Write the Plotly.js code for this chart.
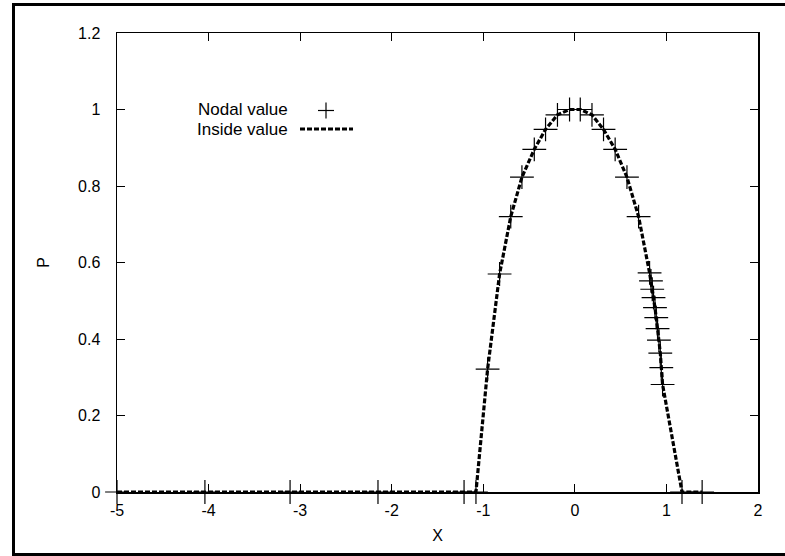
<!DOCTYPE html>
<html>
<head>
<meta charset="utf-8">
<script src="https://cdn.plot.ly/plotly-3.0.1.min.js"></script>
<style>
html,body{margin:0;padding:0;background:#fff;overflow:hidden;}
#frame{position:absolute;left:12px;top:3px;width:800px;height:547px;border:3px solid #000;box-sizing:content-box;}
#chart{position:absolute;left:0;top:0;width:785px;height:556px;}
</style>
</head>
<body>
<div id="frame"></div>
<div id="chart"></div>
<script>
// Nodal values (markers)
const nodeX = [-5, -4.04, -3.11, -2.15, -1.21, -1.08, -0.953, -0.822, -0.70, -0.578, -0.443, -0.32, -0.19, -0.058, 0.059, 0.187, 0.313, 0.44, 0.569, 0.696, 0.816, 0.831, 0.845, 0.859, 0.875, 0.889, 0.903, 0.918, 0.933, 0.944, 0.958, 1.17, 1.39];
const nodeP = [0, 0, 0, 0, 0, 0, 0.321, 0.570, 0.72, 0.823, 0.896, 0.948, 0.986, 1.0, 1.0, 0.986, 0.948, 0.896, 0.823, 0.72, 0.573, 0.552, 0.530, 0.508, 0.482, 0.456, 0.427, 0.397, 0.363, 0.325, 0.281, 0, 0];
// Inside value (dashed curve)
const insideX = [-5, -4.04, -3.11, -2.15, -1.21, -1.08, -0.953, -0.822, -0.70, -0.578, -0.443, -0.32, -0.19, -0.058, 0.059, 0.187, 0.313, 0.44, 0.569, 0.696, 0.816, 0.845, 0.875, 0.903, 0.933, 0.958, 1.17, 1.39];
const insideP = [0, 0, 0, 0, 0, 0, 0.321, 0.570, 0.72, 0.823, 0.896, 0.948, 0.986, 1.0, 1.0, 0.986, 0.948, 0.896, 0.823, 0.72, 0.573, 0.530, 0.482, 0.427, 0.363, 0.281, 0, 0];
const xTicks = [-5, -4, -3, -2, -1, 0, 1, 2];
const yTicks = [0, 0.2, 0.4, 0.6, 0.8, 1, 1.2];
const legendLabels = ["Nodal value", "Inside value"];

const FONT = "Liberation Sans, Arial, Helvetica, sans-serif";

const traces = [
  {
    x: insideX, y: insideP, type: 'scatter', mode: 'lines',
    line: {color: '#000', width: 3.2, dash: '5px,2px'},
    name: legendLabels[1], showlegend: false, hoverinfo: 'skip'
  },
  {
    x: nodeX, y: nodeP, type: 'scatter', mode: 'markers',
    marker: {symbol: 'cross-thin-open', size: 17, color: '#000', line: {color: '#000', width: 1.2}},
    name: legendLabels[0], showlegend: false, cliponaxis: false
  }
];

const axisCommon = {
  showline: true, linecolor: '#000', linewidth: 1.5, mirror: 'ticks',
  ticks: 'inside', ticklen: 8, tickwidth: 1, tickcolor: '#000',
  showgrid: false, zeroline: false,
  tickfont: {family: FONT, size: 16, color: '#000'}
};

const layout = {
  width: 785, height: 556,
  margin: {l: 117, r: 27, t: 33, b: 64},
  paper_bgcolor: 'rgba(0,0,0,0)', plot_bgcolor: 'rgba(0,0,0,0)',
  showlegend: false,
  font: {family: FONT, size: 16, color: '#000'},
  xaxis: Object.assign({}, axisCommon, {
    range: [-5, 2], tickvals: xTicks, ticktext: xTicks.map(String),
    ticklabelstandoff: 3,
    title: {text: 'X', font: {family: FONT, size: 16, color: '#000'}, standoff: 12}
  }),
  yaxis: Object.assign({}, axisCommon, {
    range: [0, 1.2], tickvals: yTicks, ticktext: yTicks.map(String),
    ticklabelstandoff: 12,
    title: {text: 'P', font: {family: FONT, size: 16, color: '#000'}, standoff: 24}
  }),
  annotations: [
    {xref: 'paper', yref: 'paper', x: (289 - 117) / 641, y: (492 - 109) / 459, xanchor: 'right', yanchor: 'middle',
     text: legendLabels[0], showarrow: false, borderpad: 0, font: {family: FONT, size: 17, color: '#000'}},
    {xref: 'paper', yref: 'paper', x: (289 - 117) / 641, y: (492 - 129) / 459, xanchor: 'right', yanchor: 'middle',
     text: legendLabels[1], showarrow: false, borderpad: 0, font: {family: FONT, size: 17, color: '#000'}}
  ],
  shapes: [
    // legend key: plus marker
    {type: 'line', xref: 'paper', yref: 'paper', x0: (318 - 117) / 641, x1: (334 - 117) / 641, y0: (492 - 110.5) / 459, y1: (492 - 110.5) / 459, line: {color: '#000', width: 1.2}},
    {type: 'line', xref: 'paper', yref: 'paper', x0: (326 - 117) / 641, x1: (326 - 117) / 641, y0: (492 - 102.5) / 459, y1: (492 - 118.5) / 459, line: {color: '#000', width: 1.2}},
    // legend key: dashed line
    {type: 'line', xref: 'paper', yref: 'paper', x0: (300 - 117) / 641, x1: (353 - 117) / 641, y0: (492 - 129) / 459, y1: (492 - 129) / 459, line: {color: '#000', width: 3.2, dash: '5px,2px'}}
  ]
};

Plotly.newPlot('chart', traces, layout, {staticPlot: true, displayModeBar: false});
</script>
</body>
</html>
